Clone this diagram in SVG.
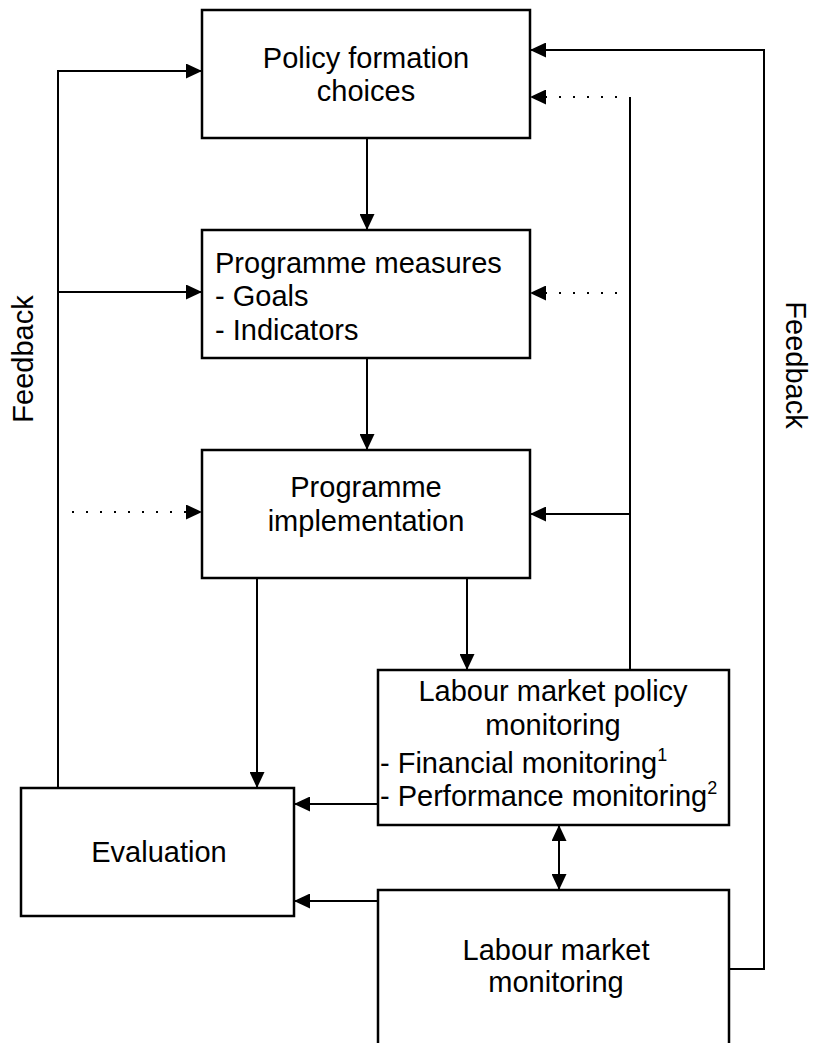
<svg xmlns="http://www.w3.org/2000/svg" width="820" height="1043" viewBox="0 0 820 1043">
<defs>
<marker id="ah" markerUnits="userSpaceOnUse" markerWidth="16" markerHeight="15" refX="16" refY="7.5" orient="auto-start-reverse">
<path d="M0,0 L16,7.5 L0,15 z" fill="#000"/>
</marker>
<style>
.box{fill:#fff;stroke:#000;stroke-width:2.5}
.t{font-family:"Liberation Sans",Arial,sans-serif;font-size:29px;fill:#000}
.c{text-anchor:middle}
.sup{font-size:18px}
.ln{fill:none;stroke:#000;stroke-width:2}
.arr{marker-end:url(#ah)}
.tip{fill:none;stroke:none;marker-end:url(#ah)}
.dot{fill:none;stroke:#000;stroke-width:2.2;stroke-dasharray:2 12}
</style>
</defs>
<rect width="820" height="1043" fill="#fff"/>
<g id="connectors">
<path class="ln arr" d="M58,788 L58,71 L202,71"/>
<path class="ln arr" d="M58,292 L202,292"/>
<path class="dot" d="M72,512 L186,512"/>
<path class="tip" d="M186,512 L202,512"/>
<path class="ln arr" d="M729,969 L764,969 L764,50 L530,50"/>
<path class="dot" d="M617,97 L546,97"/>
<path class="tip" d="M546,97 L530,97"/>
<path class="dot" d="M617,293 L546,293"/>
<path class="tip" d="M546,293 L530,293"/>
<path class="ln" d="M630,670 L630,97"/>
<path class="ln arr" d="M630,514 L530,514"/>
<path class="ln arr" d="M367,138 L367,230"/>
<path class="ln arr" d="M367,358 L367,450"/>
<path class="ln arr" d="M257,578 L257,788"/>
<path class="ln arr" d="M467,578 L467,670"/>
<path class="ln arr" d="M378,804 L294,804"/>
<path class="ln arr" d="M378,901 L294,901"/>
<path class="ln" d="M559,825 L559,890" marker-start="url(#ah)" marker-end="url(#ah)"/>
</g>
<g id="policy-formation">
<rect class="box" x="202" y="10" width="328" height="128"/>
<text class="t c" x="366" y="68">Policy formation</text>
<text class="t c" x="366" y="101">choices</text>
</g>
<g id="programme-measures">
<rect class="box" x="202" y="230" width="328" height="128"/>
<text class="t" x="215" y="273">Programme measures</text>
<text class="t" x="215" y="306">- Goals</text>
<text class="t" x="215" y="340">- Indicators</text>
</g>
<g id="programme-implementation">
<rect class="box" x="202" y="450" width="328" height="128"/>
<text class="t c" x="366" y="497">Programme</text>
<text class="t c" x="366" y="531">implementation</text>
</g>
<g id="lmp-monitoring">
<rect class="box" x="378" y="670" width="351" height="155"/>
<text class="t c" x="553" y="701">Labour market policy</text>
<text class="t c" x="553" y="735">monitoring</text>
<text class="t" x="380" y="773">- Financial monitoring<tspan class="sup" dy="-12">1</tspan></text>
<text class="t" x="380" y="806">- Performance monitoring<tspan class="sup" dy="-12">2</tspan></text>
</g>
<g id="evaluation">
<rect class="box" x="21" y="788" width="273" height="128"/>
<text class="t c" x="159" y="862">Evaluation</text>
</g>
<g id="lm-monitoring">
<path class="box" d="M378,1050 L378,890 L729,890 L729,1050"/>
<text class="t c" x="556" y="960">Labour market</text>
<text class="t c" x="556" y="992">monitoring</text>
</g>
<g id="labels">
<text class="t c" transform="translate(33,359) rotate(-90)">Feedback</text>
<text class="t c" transform="translate(786,365) rotate(90)">Feedback</text>
</g>
</svg>
